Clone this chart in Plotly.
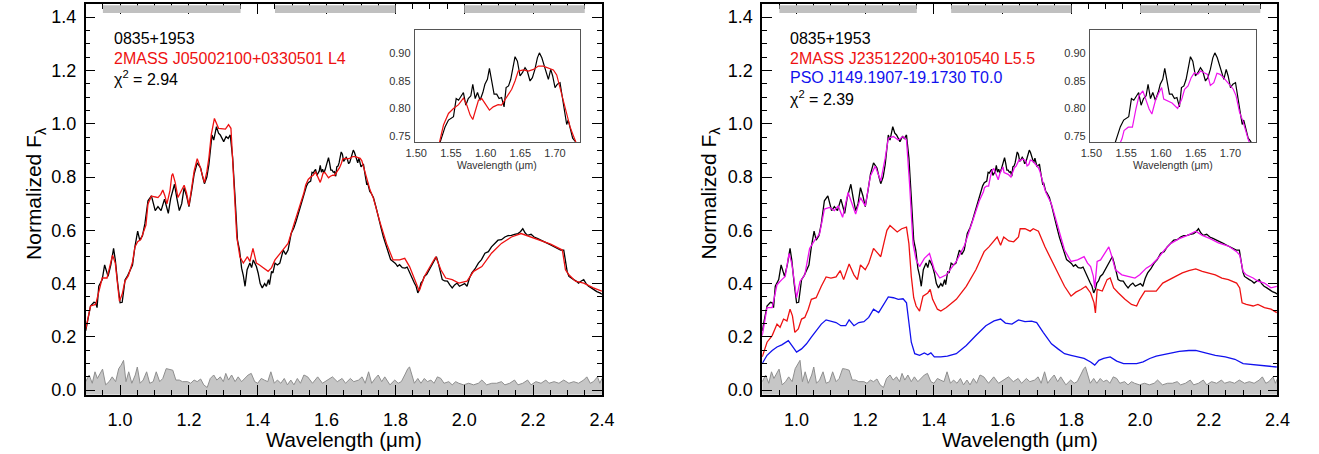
import plotly.graph_objects as go

# ---------------- data ----------------
# 0835+1953 observed spectrum (normalized F_lambda)
wl_obj = [0.900, 0.914, 0.924, 0.929, 0.933, 0.938, 0.948, 0.955, 0.965, 0.973, 0.981, 0.986, 0.993,
          1.000, 1.006, 1.0145, 1.022, 1.029, 1.036, 1.043, 1.051, 1.057, 1.065, 1.072, 1.081, 1.091,
          1.096, 1.102, 1.110, 1.119, 1.129, 1.135, 1.140, 1.147, 1.153, 1.158, 1.165, 1.172, 1.179,
          1.186, 1.193, 1.200, 1.208, 1.215, 1.224, 1.234, 1.240, 1.245, 1.252, 1.258, 1.267, 1.272,
          1.280, 1.286, 1.291, 1.301, 1.308, 1.314, 1.320, 1.327, 1.334, 1.341, 1.347, 1.353, 1.358,
          1.363, 1.369, 1.377, 1.382, 1.387, 1.396, 1.401, 1.407, 1.413, 1.420, 1.425, 1.431, 1.434,
          1.440, 1.444, 1.450, 1.457, 1.464, 1.474, 1.481, 1.488, 1.497, 1.505, 1.512, 1.519, 1.526,
          1.530, 1.5345, 1.5417, 1.5465, 1.5537, 1.5576, 1.561, 1.5647, 1.568, 1.5715, 1.575, 1.5787,
          1.5815, 1.585, 1.5883, 1.592, 1.596, 1.599, 1.6026, 1.6055, 1.609, 1.6122, 1.616, 1.6194,
          1.623, 1.6266, 1.6295, 1.633, 1.6362, 1.639, 1.6424, 1.6458, 1.6496, 1.653, 1.6568, 1.660,
          1.664, 1.6674, 1.671, 1.6746, 1.6775, 1.681, 1.6842, 1.687, 1.6904, 1.6938, 1.6966, 1.700,
          1.7034, 1.7072, 1.7106, 1.7144, 1.7168, 1.719, 1.7225, 1.7254, 1.7288, 1.736, 1.743, 1.750,
          1.758, 1.765, 1.772, 1.779, 1.786, 1.793, 1.800, 1.806, 1.812, 1.820, 1.828, 1.834, 1.841,
          1.848, 1.855, 1.860, 1.865, 1.870, 1.874, 1.879, 1.884, 1.891, 1.898, 1.905, 1.912, 1.919,
          1.924, 1.927, 1.932, 1.936, 1.943, 1.951, 1.958, 1.965, 1.972, 1.979, 1.986, 1.994, 2.001,
          2.008, 2.015, 2.022, 2.031, 2.041, 2.050, 2.060, 2.070, 2.079, 2.088, 2.098, 2.108, 2.118,
          2.127, 2.137, 2.146, 2.156, 2.163, 2.170, 2.177, 2.184, 2.194, 2.203, 2.212, 2.222, 2.232,
          2.242, 2.251, 2.261, 2.270, 2.280, 2.289, 2.294, 2.299, 2.304, 2.311, 2.318, 2.325, 2.332,
          2.340, 2.347, 2.354, 2.361, 2.368, 2.375, 2.385, 2.394, 2.400]
flux_obj = [0.223, 0.316, 0.330, 0.328, 0.310, 0.390, 0.415, 0.470, 0.427, 0.470, 0.532, 0.489, 0.400,
            0.328, 0.330, 0.415, 0.430, 0.452, 0.470, 0.538, 0.597, 0.563, 0.580, 0.625, 0.711, 0.729,
            0.700, 0.674, 0.689, 0.674, 0.717, 0.690, 0.664, 0.720, 0.754, 0.773, 0.720, 0.674, 0.700,
            0.760, 0.730, 0.689, 0.750, 0.810, 0.853, 0.834, 0.800, 0.775, 0.800, 0.847, 0.958, 0.939,
            0.989, 0.965, 0.958, 0.933, 0.952, 0.945, 0.958, 0.872, 0.723, 0.563, 0.526, 0.458, 0.430,
            0.390, 0.452, 0.477, 0.460, 0.489, 0.464, 0.440, 0.400, 0.384, 0.400, 0.390, 0.415, 0.396,
            0.446, 0.440, 0.477, 0.470, 0.477, 0.526, 0.510, 0.526, 0.588, 0.610, 0.637, 0.670, 0.699,
            0.720, 0.739, 0.767, 0.779, 0.785, 0.818, 0.815, 0.823, 0.829, 0.806, 0.818, 0.823,
            0.844, 0.818, 0.829, 0.815, 0.829, 0.844, 0.853, 0.873, 0.850, 0.826, 0.826, 0.818,
            0.820, 0.803, 0.838, 0.841, 0.853, 0.871, 0.894, 0.886, 0.859, 0.865, 0.874, 0.868,
            0.850, 0.856, 0.871, 0.892, 0.901, 0.892, 0.880, 0.868, 0.853, 0.871, 0.859, 0.838,
            0.844, 0.847, 0.818, 0.794, 0.771, 0.779, 0.761, 0.746, 0.741, 0.723, 0.690, 0.649,
            0.610, 0.575, 0.545, 0.514, 0.490, 0.483, 0.476, 0.465, 0.471, 0.460, 0.458, 0.462, 0.440,
            0.425, 0.402, 0.390, 0.365, 0.380, 0.402, 0.410, 0.427, 0.435, 0.452, 0.465, 0.483, 0.501,
            0.480, 0.464, 0.440, 0.415, 0.410, 0.409, 0.395, 0.384, 0.395, 0.402, 0.390, 0.396, 0.400,
            0.390, 0.420, 0.440, 0.455, 0.477, 0.490, 0.514, 0.520, 0.538, 0.550, 0.563, 0.565, 0.575,
            0.580, 0.581, 0.585, 0.588, 0.595, 0.606, 0.590, 0.581, 0.585, 0.575, 0.570, 0.563, 0.555,
            0.551, 0.545, 0.538, 0.532, 0.526, 0.526, 0.477, 0.445, 0.427, 0.420, 0.415, 0.410, 0.402,
            0.410, 0.415, 0.400, 0.390, 0.385, 0.378, 0.370, 0.365, 0.360]

# Uncertainty / residual level of the observed spectrum
wl_noise = [0.900, 0.910, 0.919, 0.927, 0.934, 0.949, 0.958, 0.968, 0.977, 0.987, 0.996, 1.003, 1.010,
            1.017, 1.025, 1.034, 1.044, 1.050, 1.058, 1.067, 1.077, 1.086, 1.096, 1.105, 1.115, 1.124,
            1.134, 1.143, 1.153, 1.162, 1.172, 1.181, 1.196, 1.205, 1.215, 1.224, 1.234, 1.243, 1.253,
            1.262, 1.272, 1.281, 1.291, 1.300, 1.307, 1.315, 1.324, 1.334, 1.343, 1.353, 1.362, 1.372,
            1.381, 1.391, 1.400, 1.410, 1.419, 1.429, 1.438, 1.448, 1.457, 1.467, 1.477, 1.486, 1.496,
            1.505, 1.515, 1.524, 1.534, 1.545, 1.559, 1.574, 1.588, 1.602, 1.617, 1.631, 1.645, 1.655,
            1.669, 1.679, 1.693, 1.703, 1.712, 1.722, 1.731, 1.741, 1.750, 1.760, 1.769, 1.784, 1.798,
            1.808, 1.817, 1.827, 1.836, 1.841, 1.849, 1.855, 1.865, 1.874, 1.884, 1.893, 1.903, 1.912,
            1.922, 1.932, 1.941, 1.955, 1.965, 1.975, 1.984, 1.998, 2.013, 2.027, 2.041, 2.051, 2.065,
            2.080, 2.094, 2.108, 2.118, 2.132, 2.146, 2.156, 2.170, 2.184, 2.194, 2.208, 2.223, 2.237,
            2.246, 2.261, 2.275, 2.289, 2.304, 2.318, 2.332, 2.347, 2.356, 2.366, 2.375, 2.387, 2.394,
            2.400]
noise = [0.032, 0.057, 0.026, 0.069, 0.044, 0.079, 0.020, 0.032, 0.050, 0.032, 0.081, 0.094, 0.112,
         0.032, 0.069, 0.026, 0.057, 0.087, 0.026, 0.038, 0.069, 0.026, 0.032, 0.069, 0.032, 0.044,
         0.081, 0.079, 0.075, 0.038, 0.038, 0.032, 0.032, 0.026, 0.038, 0.032, 0.042, 0.020, 0.010,
         0.044, 0.057, 0.038, 0.050, 0.032, 0.063, 0.038, 0.057, 0.032, 0.050, 0.032, 0.044, 0.057,
         0.063, 0.032, 0.026, 0.044, 0.038, 0.032, 0.069, 0.026, 0.038, 0.026, 0.044, 0.020, 0.038,
         0.020, 0.044, 0.026, 0.057, 0.050, 0.026, 0.050, 0.026, 0.038, 0.050, 0.032, 0.044, 0.026,
         0.044, 0.032, 0.038, 0.050, 0.026, 0.069, 0.026, 0.044, 0.057, 0.032, 0.050, 0.020, 0.038,
         0.026, 0.032, 0.057, 0.081, 0.087, 0.057, 0.026, 0.044, 0.026, 0.044, 0.032, 0.038, 0.026,
         0.050, 0.044, 0.026, 0.032, 0.020, 0.032, 0.026, 0.020, 0.026, 0.020, 0.026, 0.038, 0.020,
         0.026, 0.026, 0.032, 0.020, 0.026, 0.038, 0.020, 0.026, 0.038, 0.020, 0.032, 0.026, 0.038,
         0.026, 0.032, 0.026, 0.038, 0.026, 0.032, 0.026, 0.038, 0.050, 0.026, 0.032, 0.050, 0.026,
         0.044]

# Single template: 2MASS J05002100+0330501 (L4)
wl_l4 = [0.900, 0.914, 0.929, 0.938, 0.948, 0.962, 0.970, 0.978, 0.986, 0.992, 0.998, 1.006, 1.014,
         1.024, 1.029, 1.036, 1.043, 1.051, 1.060, 1.067, 1.075, 1.081, 1.091, 1.100, 1.110, 1.118,
         1.124, 1.130, 1.136, 1.145, 1.150, 1.153, 1.160, 1.168, 1.177, 1.186, 1.193, 1.200, 1.208,
         1.215, 1.224, 1.232, 1.245, 1.252, 1.258, 1.265, 1.274, 1.286, 1.306, 1.315, 1.322, 1.329,
         1.339, 1.348, 1.358, 1.370, 1.377, 1.386, 1.392, 1.396, 1.405, 1.418, 1.430, 1.440, 1.450,
         1.469, 1.488, 1.507, 1.526, 1.5336, 1.5393, 1.5465, 1.5537, 1.561, 1.568, 1.573, 1.5777,
         1.5815, 1.5858, 1.5897, 1.5945, 1.599, 1.6055, 1.611, 1.618, 1.623, 1.630, 1.6376, 1.6424,
         1.647, 1.6544, 1.6616, 1.669, 1.676, 1.683, 1.6904, 1.6976, 1.7024, 1.707, 1.712, 1.7168,
         1.7216, 1.726, 1.730, 1.736, 1.755, 1.774, 1.793, 1.812, 1.827, 1.841, 1.860, 1.869, 1.884,
         1.903, 1.917, 1.932, 1.946, 1.965, 1.984, 2.008, 2.027, 2.051, 2.079, 2.108, 2.137, 2.165,
         2.194, 2.222, 2.251, 2.285, 2.294, 2.304, 2.323, 2.347, 2.375, 2.400]
flux_l4 = [0.229, 0.316, 0.322, 0.370, 0.421, 0.421, 0.460, 0.507, 0.477, 0.400, 0.334, 0.360, 0.409,
           0.430, 0.452, 0.480, 0.538, 0.557, 0.565, 0.594, 0.620, 0.699, 0.729, 0.726, 0.723, 0.735,
           0.751, 0.730, 0.699, 0.750, 0.805, 0.813, 0.780, 0.723, 0.745, 0.769, 0.740, 0.693, 0.760,
           0.822, 0.869, 0.840, 0.779, 0.820, 0.872, 0.960, 1.020, 0.983, 0.980, 0.997, 0.983, 0.834,
           0.575, 0.501, 0.477, 0.501, 0.483, 0.532, 0.500, 0.477, 0.470, 0.458, 0.446, 0.460, 0.489,
           0.520, 0.551, 0.631, 0.705, 0.739, 0.770, 0.791, 0.800, 0.807, 0.819, 0.806, 0.788,
           0.780, 0.797, 0.815, 0.818, 0.809, 0.797, 0.803, 0.807, 0.806, 0.820, 0.835, 0.850,
           0.868, 0.870, 0.868, 0.871, 0.877, 0.877, 0.873, 0.870, 0.861, 0.838, 0.812, 0.788,
           0.767, 0.752, 0.739, 0.720, 0.631, 0.551, 0.489, 0.489, 0.495, 0.464, 0.402, 0.372, 0.427,
           0.471, 0.501, 0.452, 0.421, 0.415, 0.402, 0.409, 0.446, 0.464, 0.514, 0.551, 0.575, 0.588,
           0.575, 0.563, 0.548, 0.526, 0.452, 0.433, 0.409, 0.402, 0.384, 0.372]

# Binary components: 2MASS J23512200+3010540 (L5.5) and PSO J149.1907-19.1730 (T0.0)
wl_l55 = [0.900, 0.914, 0.929, 0.943, 0.952, 0.962, 0.972, 0.981, 0.988, 0.995, 1.005, 1.0145, 1.024,
          1.034, 1.043, 1.057, 1.072, 1.086, 1.100, 1.115, 1.127, 1.137, 1.153, 1.167, 1.177, 1.186,
          1.200, 1.210, 1.224, 1.236, 1.245, 1.255, 1.263, 1.272, 1.282, 1.293, 1.306, 1.320, 1.327,
          1.334, 1.341, 1.348, 1.358, 1.368, 1.382, 1.389, 1.396, 1.410, 1.420, 1.436, 1.465, 1.494,
          1.522, 1.546, 1.560, 1.575, 1.584, 1.594, 1.603, 1.618, 1.632, 1.646, 1.651, 1.665, 1.680,
          1.689, 1.704, 1.723, 1.742, 1.761, 1.780, 1.799, 1.813, 1.828, 1.842, 1.856, 1.866, 1.870,
          1.875, 1.890, 1.904, 1.913, 1.923, 1.937, 1.956, 1.975, 1.990, 1.999, 2.014, 2.028, 2.047,
          2.066, 2.085, 2.104, 2.123, 2.142, 2.162, 2.181, 2.200, 2.219, 2.238, 2.257, 2.281, 2.290,
          2.297, 2.309, 2.329, 2.343, 2.362, 2.381, 2.398]
flux_l55 = [0.125, 0.180, 0.205, 0.248, 0.236, 0.267, 0.260, 0.304, 0.279, 0.217, 0.230, 0.267, 0.273,
            0.304, 0.341, 0.347, 0.390, 0.425, 0.421, 0.425, 0.449, 0.415, 0.474, 0.433, 0.415, 0.470,
            0.452, 0.476, 0.532, 0.513, 0.501, 0.557, 0.600, 0.618, 0.606, 0.594, 0.606, 0.612, 0.550,
            0.427, 0.347, 0.316, 0.297, 0.353, 0.365, 0.378, 0.341, 0.304, 0.297, 0.310, 0.341, 0.390,
            0.452, 0.520, 0.538, 0.563, 0.575, 0.544, 0.575, 0.560, 0.557, 0.575, 0.606, 0.606, 0.597,
            0.606, 0.597, 0.538, 0.489, 0.440, 0.390, 0.353, 0.368, 0.378, 0.390, 0.365, 0.328, 0.290,
            0.378, 0.372, 0.415, 0.421, 0.384, 0.365, 0.341, 0.322, 0.316, 0.341, 0.372, 0.372, 0.372,
            0.402, 0.415, 0.430, 0.440, 0.449, 0.455, 0.446, 0.440, 0.433, 0.421, 0.415, 0.402, 0.384,
            0.328, 0.322, 0.316, 0.322, 0.310, 0.304, 0.291]

wl_t0 = [0.900, 0.914, 0.929, 0.943, 0.957, 0.967, 0.976, 0.986, 1.000, 1.0145, 1.029, 1.043, 1.057,
         1.072, 1.086, 1.100, 1.115, 1.129, 1.143, 1.153, 1.167, 1.181, 1.196, 1.210, 1.224, 1.239,
         1.253, 1.267, 1.282, 1.296, 1.310, 1.320, 1.327, 1.334, 1.344, 1.358, 1.372, 1.382, 1.391,
         1.401, 1.420, 1.439, 1.465, 1.494, 1.522, 1.551, 1.575, 1.594, 1.608, 1.627, 1.646, 1.665,
         1.684, 1.699, 1.718, 1.742, 1.761, 1.780, 1.799, 1.818, 1.837, 1.856, 1.868, 1.880, 1.894,
         1.913, 1.932, 1.952, 1.971, 1.990, 2.009, 2.028, 2.047, 2.066, 2.085, 2.114, 2.142, 2.162,
         2.190, 2.219, 2.248, 2.276, 2.300, 2.333, 2.362, 2.398]
flux_t0 = [0.100, 0.131, 0.149, 0.162, 0.170, 0.178, 0.186, 0.168, 0.143, 0.155, 0.174, 0.199, 0.223,
           0.248, 0.264, 0.260, 0.254, 0.242, 0.242, 0.264, 0.242, 0.254, 0.257, 0.273, 0.304, 0.291,
           0.322, 0.350, 0.347, 0.341, 0.343, 0.328, 0.254, 0.180, 0.137, 0.131, 0.140, 0.133, 0.140,
           0.125, 0.125, 0.128, 0.137, 0.168, 0.205, 0.242, 0.260, 0.267, 0.252, 0.248, 0.264, 0.257,
           0.259, 0.254, 0.217, 0.174, 0.155, 0.137, 0.131, 0.125, 0.119, 0.106, 0.094, 0.112, 0.119,
           0.125, 0.109, 0.100, 0.100, 0.100, 0.106, 0.119, 0.128, 0.133, 0.137, 0.146, 0.149, 0.149,
           0.140, 0.131, 0.125, 0.116, 0.100, 0.096, 0.094, 0.087]

# Composite (L5.5 + T0.0) template
wl_comb = [0.900, 0.914, 0.929, 0.943, 0.957, 0.967, 0.978, 0.986, 1.000, 1.010, 1.024, 1.038, 1.053,
           1.067, 1.081, 1.096, 1.110, 1.121, 1.134, 1.150, 1.172, 1.186, 1.200, 1.215, 1.229, 1.245,
           1.258, 1.267, 1.282, 1.296, 1.310, 1.320, 1.329, 1.339, 1.348, 1.358, 1.372, 1.387, 1.401,
           1.417, 1.436, 1.465, 1.489, 1.513, 1.532, 1.544, 1.547, 1.553, 1.559, 1.564, 1.5685, 1.574,
           1.579, 1.583, 1.587, 1.592, 1.596, 1.601, 1.604, 1.609, 1.616, 1.624, 1.630, 1.634, 1.639,
           1.6435, 1.648, 1.653, 1.657, 1.662, 1.667, 1.671, 1.676, 1.6805, 1.685, 1.690, 1.694, 1.699,
           1.704, 1.708, 1.713, 1.7176, 1.722, 1.726, 1.742, 1.761, 1.780, 1.799, 1.818, 1.837, 1.847,
           1.856, 1.864, 1.868, 1.875, 1.885, 1.899, 1.909, 1.918, 1.928, 1.947, 1.966, 1.985, 1.999,
           2.018, 2.033, 2.052, 2.071, 2.090, 2.114, 2.138, 2.162, 2.181, 2.204, 2.228, 2.257, 2.281,
           2.290, 2.300, 2.309, 2.329, 2.343, 2.362, 2.381, 2.398]
flux_comb = [0.205, 0.310, 0.310, 0.396, 0.415, 0.427, 0.513, 0.476, 0.347, 0.408, 0.433, 0.532, 0.563,
             0.587, 0.680, 0.686, 0.674, 0.692, 0.649, 0.742, 0.661, 0.723, 0.692, 0.804, 0.841, 0.785,
             0.871, 0.946, 0.952, 0.939, 0.952, 0.939, 0.773, 0.550, 0.489, 0.464, 0.495, 0.513, 0.452,
             0.421, 0.433, 0.483, 0.544, 0.637, 0.711, 0.745, 0.760, 0.766, 0.766, 0.799, 0.823, 0.832,
             0.814, 0.799, 0.790, 0.814, 0.826, 0.838, 0.817, 0.814, 0.810, 0.800, 0.817, 0.835, 0.841,
             0.856, 0.865, 0.862, 0.868, 0.865, 0.862, 0.842, 0.847, 0.864, 0.862, 0.856, 0.850, 0.844,
             0.835, 0.823, 0.793, 0.778, 0.757, 0.742, 0.699, 0.612, 0.526, 0.483, 0.489, 0.501, 0.477,
             0.464, 0.427, 0.384, 0.483, 0.489, 0.520, 0.538, 0.501, 0.452, 0.433, 0.427, 0.421, 0.433,
             0.458, 0.470, 0.495, 0.526, 0.551, 0.569, 0.581, 0.597, 0.581, 0.569, 0.553, 0.541, 0.520,
             0.507, 0.446, 0.433, 0.421, 0.409, 0.402, 0.384, 0.390]

# Photometric band windows drawn along the top edge
bands = [(0.95, 1.35), (1.45, 1.80), (2.00, 2.35)]

X_RANGE = [0.9, 2.4]
Y_RANGE = [-0.017, 1.4497]
INSET_X = [1.498, 1.736]
INSET_Y = [0.739, 0.942]
BAND_Y = (1.416, 1.4445)

FONT = "Liberation Sans, Arial, Helvetica, sans-serif"
W, H = 1319, 454

# ---------------- figure ----------------
fig = go.Figure()


def add_noise(xa, ya):
    fig.add_trace(go.Scatter(x=[X_RANGE[0], X_RANGE[1]], y=[Y_RANGE[0], Y_RANGE[0]],
                             mode="lines", line=dict(width=0), xaxis=xa, yaxis=ya,
                             showlegend=False, hoverinfo="skip"))
    fig.add_trace(go.Scatter(x=wl_noise, y=noise, mode="lines", fill="tonexty",
                             fillcolor="#c6c6c6", line=dict(color="#8e8e8e", width=1),
                             xaxis=xa, yaxis=ya, showlegend=False))


def add_line(x, y, color, xa, ya, width=1.3):
    fig.add_trace(go.Scatter(x=x, y=y, mode="lines", line=dict(color=color, width=width),
                             xaxis=xa, yaxis=ya, showlegend=False))


BLACK, RED, BLUE, MAGENTA = "#000000", "#ee1111", "#1111ee", "#ee11ee"

# left panel
add_noise("x", "y")
add_line(wl_obj, flux_obj, BLACK, "x", "y")
add_line(wl_l4, flux_l4, RED, "x", "y")
# left inset
add_line(wl_obj, flux_obj, BLACK, "x3", "y3", 1.2)
add_line(wl_l4, flux_l4, RED, "x3", "y3", 1.2)

# right panel
add_noise("x2", "y2")
add_line(wl_l55, flux_l55, RED, "x2", "y2")
add_line(wl_t0, flux_t0, BLUE, "x2", "y2")
add_line(wl_obj, flux_obj, BLACK, "x2", "y2")
add_line(wl_comb, flux_comb, MAGENTA, "x2", "y2")
# right inset
add_line(wl_obj, flux_obj, BLACK, "x4", "y4", 1.2)
add_line(wl_comb, flux_comb, MAGENTA, "x4", "y4", 1.2)

# band bars (drawn over the top-axis ticks)
for xr, yr in (("x", "y"), ("x2", "y2")):
    for b0, b1 in bands:
        fig.add_shape(type="rect", xref=xr, yref=yr, x0=b0, x1=b1, y0=BAND_Y[0], y1=BAND_Y[1],
                      fillcolor="#c0c0c0", line=dict(width=0), layer="above")

px_x = lambda p: p / W
px_y = lambda p: (H - p) / H

main_ax = dict(showline=True, linecolor="black", linewidth=1.5, mirror="allticks",
               ticks="inside", ticklen=10, tickwidth=1, tickcolor="black",
               showgrid=False, zeroline=False, tickformat=".1f",
               tickfont=dict(family=FONT, size=18, color="black"),
               minor=dict(ticks="inside", ticklen=5, tickwidth=1, tickcolor="black", dtick=0.05,
                          showgrid=False))

xmain = dict(main_ax, range=X_RANGE, dtick=0.2, tick0=0, ticklabelstandoff=8)
ymain = dict(main_ax, range=Y_RANGE, dtick=0.2, tick0=0, ticklabelstandoff=4,
             domain=[px_y(400), px_y(4)])

inset_ax = dict(showline=True, linecolor="#555555", linewidth=1, mirror=True, ticks="",
                showgrid=False, zeroline=False,
                tickfont=dict(family=FONT, size=11, color="#333333"))

fig.update_layout(
    width=W, height=H, margin=dict(l=0, r=0, t=0, b=0),
    paper_bgcolor="white", plot_bgcolor="white",
    font=dict(family=FONT, color="black"),
    xaxis=dict(xmain, domain=[px_x(78), px_x(603)], anchor="y"),
    yaxis=dict(ymain, anchor="x"),
    xaxis2=dict(xmain, domain=[px_x(766), px_x(1290)], anchor="y2"),
    yaxis2=dict(ymain, anchor="x2"),
    xaxis3=dict(inset_ax, domain=[px_x(412.7), px_x(580.7)], anchor="y3", range=INSET_X,
                tickvals=[1.50, 1.55, 1.60, 1.65, 1.70], tickformat=".2f", ticklabelstandoff=1),
    yaxis3=dict(inset_ax, domain=[px_y(144), px_y(30.7)], anchor="x3", range=INSET_Y,
                tickvals=[0.75, 0.80, 0.85, 0.90], tickformat=".2f", ticklabelstandoff=1),
    xaxis4=dict(inset_ax, domain=[px_x(1099.3), px_x(1267.7)], anchor="y4", range=INSET_X,
                tickvals=[1.50, 1.55, 1.60, 1.65, 1.70], tickformat=".2f", ticklabelstandoff=1),
    yaxis4=dict(inset_ax, domain=[px_y(144), px_y(30.7)], anchor="x4", range=INSET_Y,
                tickvals=[0.75, 0.80, 0.85, 0.90], tickformat=".2f", ticklabelstandoff=1),
)


def text(x, y, s, color="black", size=16, xanchor="center"):
    fig.add_annotation(x=px_x(x), y=px_y(y), xref="paper", yref="paper", text=s,
                       showarrow=False, xanchor=xanchor, yanchor="middle",
                       font=dict(family=FONT, size=size, color=color))


# labels, left panel
text(105, 39, "0835+1953", xanchor="left")
text(105, 59, "2MASS J05002100+0330501 L4", color=RED, xanchor="left")
text(105, 79, "χ<sup>2</sup> = 2.94", xanchor="left")
# labels, right panel
text(792, 39, "0835+1953", xanchor="left")
text(792, 59, "2MASS J23512200+3010540 L5.5", color=RED, xanchor="left")
text(792, 79, "PSO J149.1907-19.1730 T0.0", color=BLUE, xanchor="left")
text(792, 99, "χ<sup>2</sup> = 2.39", xanchor="left")

# axis titles
for cx, ytx in ((340.5, 27), (1028, 713)):
    text(cx, 445.5, "Wavelength (μm)", size=20.5)
    fig.add_annotation(x=px_x(ytx), y=px_y(196), xref="paper", yref="paper",
                       text="Normalized F<sub>λ</sub>", textangle=-90, showarrow=False,
                       xanchor="center", yanchor="middle",
                       font=dict(family=FONT, size=21, color="black"))
for cx in (496.7, 1183.5):
    text(cx, 167.5, "Wavelength (μm)", size=10.5, color="#333333")

fig.write_html("out.html")
